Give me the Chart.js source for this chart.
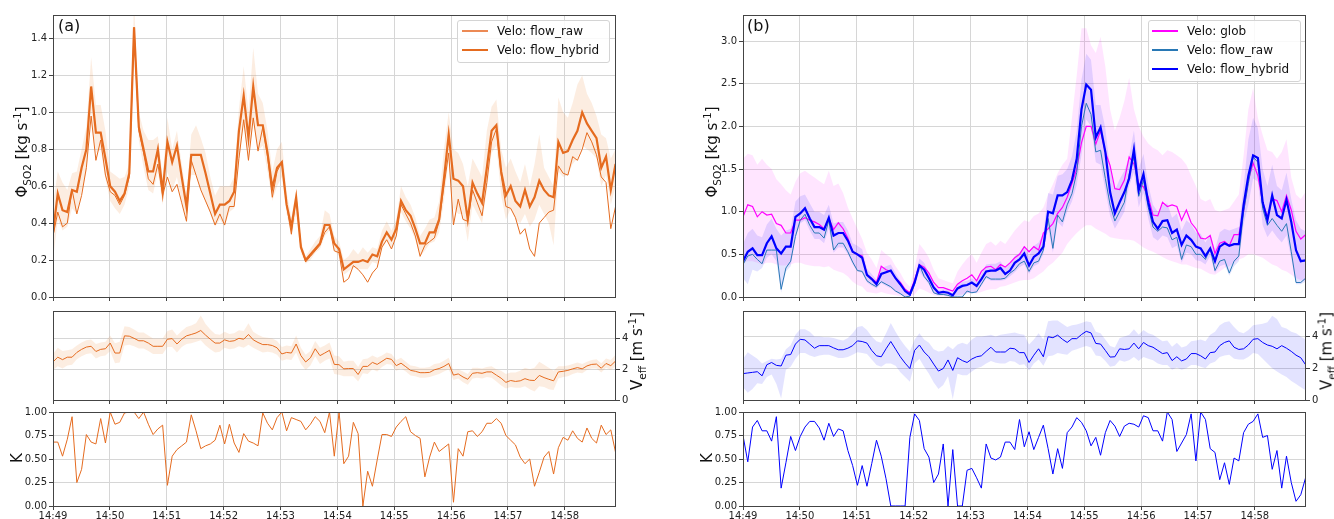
<!DOCTYPE html>
<html>
<head>
<meta charset="utf-8">
<title>SO2 emission rate and plume velocity</title>
<script src="https://cdn.jsdelivr.net/npm/chart.js@4.4.1/dist/chart.umd.min.js"></script>
<style>
  html, body { margin:0; padding:0; background:#fff; }
  body { position:relative; width:1334px; height:519px; overflow:hidden; font-family:"DejaVu Sans", sans-serif; color:#111; }
  canvas { position:absolute; }
  .axis-title { position:absolute; white-space:nowrap; font-size:15px; line-height:1; transform:translate(-50%,-50%) rotate(-90deg); }
  .axis-title sub, .axis-title sup { font-size:10.5px; line-height:0; }
  .panel-tag { position:absolute; font-size:16px; line-height:1; }
  .legend { position:absolute; box-sizing:border-box; border:1px solid #d4d4d4; border-radius:3px; background:rgba(255,255,255,0.85); font-size:12px; }
  .legend .row { position:absolute; height:14px; display:flex; align-items:center; white-space:nowrap; }
  .legend .swatch { display:inline-block; width:26px; margin-right:9px; }
</style>
</head>
<body>
<canvas id="fluxA"  width="690" height="305" style="left:0;top:0"></canvas>
<canvas id="veffA"  width="690" height="105" style="left:0;top:303px"></canvas>
<canvas id="kappaA" width="690" height="122" style="left:0;top:404px"></canvas>
<canvas id="fluxB"  width="690" height="305" style="left:690px;top:0"></canvas>
<canvas id="veffB"  width="690" height="105" style="left:690px;top:303px"></canvas>
<canvas id="kappaB" width="690" height="122" style="left:690px;top:404px"></canvas>

<div class="panel-tag" style="left:58px;top:18px">(a)</div>
<div class="panel-tag" style="left:747px;top:18px">(b)</div>

<div class="axis-title" style="left:22px;top:152px">Φ<sub>SO2</sub> [kg s<sup>-1</sup>]</div>
<div class="axis-title" style="left:712px;top:152px">Φ<sub>SO2</sub> [kg s<sup>-1</sup>]</div>
<div class="axis-title" style="left:637px;top:351px">V<sub>eff</sub> [m s<sup>-1</sup>]</div>
<div class="axis-title" style="left:1327px;top:351px">V<sub>eff</sub> [m s<sup>-1</sup>]</div>
<div class="axis-title" style="left:17px;top:458px">K</div>
<div class="axis-title" style="left:707px;top:458px">K</div>

<div class="legend" style="left:457px;top:20px;width:153px;height:43px">
  <div class="row" style="left:4px;top:3px"><span class="swatch" style="height:1.2px;background:#ec8a55"></span>Velo: flow_raw</div>
  <div class="row" style="left:4px;top:22px"><span class="swatch" style="height:2.2px;background:#e56b1f"></span>Velo: flow_hybrid</div>
</div>
<div class="legend" style="left:1148px;top:20px;width:153px;height:62px">
  <div class="row" style="left:3px;top:3px"><span class="swatch" style="height:1.5px;background:#ff00ff"></span>Velo: glob</div>
  <div class="row" style="left:3px;top:22px"><span class="swatch" style="height:1.2px;background:#2878b5"></span>Velo: flow_raw</div>
  <div class="row" style="left:3px;top:41px"><span class="swatch" style="height:2.2px;background:#0000ff"></span>Velo: flow_hybrid</div>
</div>

<script>
// ---- time axis: samples every ~5 s starting 14:49:00 ----
const SAMPLE_STEP_S = 5.03;
const X_END_S = 594;
const MINUTE_TICKS = [0, 60, 120, 180, 240, 300, 360, 420, 480, 540];
const MINUTE_LABELS = ['14:49','14:50','14:51','14:52','14:53','14:54','14:55','14:56','14:57','14:58'];

// ---- tick values ----
const FLUX_TICKS_A = [0, 0.2, 0.4, 0.6, 0.8, 1.0, 1.2, 1.4];
const FLUX_TICKS_B = [0, 0.5, 1.0, 1.5, 2.0, 2.5, 3.0];
const VEFF_TICKS = [0, 2, 4];
const KAPPA_TICKS = [0, 0.25, 0.5, 0.75, 1.0];

// ---- panel (a): SO2 emission rate [kg/s] ----
const fluxRawA = [
0.33,0.46,0.38,0.40,0.58,0.45,0.55,0.70,0.98,0.74,
0.85,0.66,0.57,0.55,0.50,0.55,0.65,1.46,0.90,0.78,
0.64,0.61,0.72,0.55,0.65,0.57,0.61,0.51,0.41,0.74,
0.66,0.58,0.52,0.46,0.39,0.45,0.39,0.49,0.49,0.75,
0.96,0.74,0.97,0.79,0.92,0.76,0.54,0.68,0.73,0.50,
0.34,0.54,0.27,0.19,0.22,0.25,0.28,0.35,0.38,0.25,
0.24,0.08,0.10,0.17,0.15,0.12,0.08,0.13,0.16,0.27,
0.31,0.26,0.33,0.50,0.45,0.40,0.33,0.22,0.28,0.30,
0.32,0.41,0.60,0.78,0.39,0.53,0.42,0.41,0.58,0.51,
0.44,0.62,0.84,0.91,0.66,0.49,0.48,0.43,0.34,0.37,
0.26,0.22,0.40,0.43,0.46,0.47,0.71,0.67,0.66,0.76,
0.74,0.80,0.89,0.84,0.77,0.65,0.62,0.37,0.49];
const fluxHybA = [
0.35,0.56,0.47,0.46,0.58,0.57,0.70,0.80,1.14,0.89,
0.89,0.75,0.60,0.57,0.52,0.56,0.67,1.46,0.92,0.80,
0.68,0.68,0.80,0.57,0.84,0.73,0.82,0.65,0.49,0.77,
0.77,0.77,0.67,0.56,0.45,0.50,0.50,0.52,0.57,0.90,
1.09,0.86,1.14,0.93,0.93,0.78,0.59,0.70,0.73,0.50,
0.38,0.54,0.27,0.20,0.23,0.26,0.29,0.39,0.39,0.29,
0.26,0.15,0.17,0.19,0.19,0.20,0.19,0.23,0.22,0.30,
0.35,0.31,0.37,0.52,0.47,0.44,0.37,0.29,0.29,0.35,
0.35,0.42,0.64,0.88,0.64,0.63,0.60,0.42,0.62,0.56,
0.51,0.70,0.90,0.93,0.68,0.55,0.60,0.52,0.49,0.58,
0.49,0.54,0.63,0.58,0.55,0.54,0.84,0.78,0.79,0.85,
0.90,1.00,0.94,0.90,0.86,0.70,0.76,0.58,0.72];
const fluxHybLoA = [
0.20,0.42,0.36,0.38,0.48,0.45,0.58,0.68,1.00,0.78,
0.80,0.64,0.52,0.48,0.45,0.50,0.60,1.38,0.85,0.70,
0.58,0.56,0.68,0.50,0.68,0.58,0.65,0.52,0.42,0.66,
0.66,0.58,0.52,0.45,0.38,0.42,0.38,0.46,0.48,0.74,
0.95,0.74,0.96,0.79,0.82,0.68,0.52,0.60,0.65,0.45,
0.33,0.45,0.24,0.18,0.20,0.24,0.26,0.33,0.36,0.25,
0.22,0.12,0.14,0.16,0.15,0.15,0.15,0.19,0.18,0.26,
0.31,0.27,0.33,0.46,0.41,0.37,0.31,0.22,0.25,0.29,
0.30,0.35,0.52,0.75,0.48,0.45,0.45,0.30,0.50,0.45,
0.40,0.58,0.78,0.82,0.55,0.42,0.48,0.42,0.40,0.45,
0.38,0.42,0.50,0.45,0.40,0.28,0.68,0.65,0.66,0.72,
0.75,0.82,0.80,0.78,0.75,0.60,0.66,0.50,0.60];
const fluxHybHiA = [
0.50,0.68,0.62,0.58,0.67,0.68,0.80,0.92,1.30,1.04,
1.04,0.90,0.68,0.66,0.64,0.65,0.72,1.60,1.00,0.90,
0.85,0.85,0.87,0.65,0.97,0.80,0.90,0.72,0.55,0.88,
0.93,0.86,0.78,0.65,0.55,0.60,0.60,0.60,0.65,1.02,
1.25,1.00,1.35,1.10,1.05,0.90,0.68,0.80,0.84,0.57,
0.43,0.58,0.30,0.22,0.26,0.30,0.33,0.47,0.45,0.33,
0.30,0.20,0.22,0.26,0.23,0.27,0.24,0.27,0.26,0.36,
0.41,0.36,0.42,0.60,0.54,0.50,0.43,0.33,0.37,0.42,
0.43,0.52,0.80,1.00,0.80,0.78,0.72,0.60,0.75,0.70,
0.65,0.90,1.03,1.07,0.80,0.70,0.75,0.68,0.62,0.72,
0.60,0.72,0.88,0.70,0.65,0.60,1.08,1.00,0.97,1.05,
1.15,1.20,1.10,1.05,0.98,0.88,0.86,0.75,0.80];

// ---- panel (a): effective plume velocity [m/s] ----
const veffA = [
2.48,2.79,2.63,2.79,2.79,3.10,3.30,3.45,3.50,3.16,
3.30,3.34,3.71,3.06,3.06,4.18,4.16,4.02,3.86,3.86,
3.71,3.50,3.50,3.50,3.96,4.00,3.65,3.96,4.18,4.27,
4.37,4.53,4.23,3.96,3.71,3.71,3.92,3.82,3.86,4.02,
3.96,4.27,3.92,3.75,3.61,3.61,3.55,3.40,3.00,3.10,
3.06,3.65,2.89,2.48,2.75,3.34,2.89,3.06,3.24,2.32,
2.30,2.03,2.05,2.05,1.66,2.19,2.19,2.45,2.32,2.52,
2.72,2.65,2.24,2.40,2.17,1.93,1.87,1.78,1.78,1.80,
1.97,2.05,2.19,2.38,1.62,1.70,1.50,1.35,1.74,1.78,
1.74,1.83,1.83,1.62,1.42,1.15,1.27,1.21,1.25,1.39,
1.29,1.27,1.60,1.46,1.35,1.25,1.83,1.87,1.93,2.03,
2.11,2.03,2.22,2.32,2.34,2.07,2.38,2.24,2.54];
const veffLoA = [
1.95,2.20,2.05,2.25,2.30,2.65,2.85,3.00,3.05,2.70,
2.85,2.90,3.20,2.40,2.45,3.55,3.60,3.50,3.35,3.35,
3.20,3.00,3.00,3.00,3.45,3.45,3.10,3.45,3.65,3.70,
3.80,3.90,3.55,3.30,3.10,3.15,3.40,3.30,3.35,3.50,
3.40,3.60,3.40,3.25,3.10,3.15,3.10,2.95,2.55,2.65,
2.60,3.10,2.35,1.95,2.25,2.85,2.35,2.55,2.70,1.70,
1.65,1.55,1.55,1.55,1.20,1.75,1.70,2.00,1.85,2.15,
2.35,2.30,1.90,2.05,1.85,1.60,1.55,1.45,1.45,1.50,
1.60,1.70,1.85,2.00,1.30,1.40,1.15,1.00,1.40,1.45,
1.40,1.50,1.45,1.20,0.95,0.75,0.85,0.80,0.80,0.90,
0.70,0.55,0.90,0.85,0.70,0.65,1.40,1.50,1.55,1.70,
1.80,1.75,1.95,2.05,2.05,1.80,2.10,1.95,2.20];
const veffHiA = [
3.00,3.40,3.20,3.25,3.30,3.55,3.75,3.90,3.95,3.65,
3.75,3.80,4.20,3.70,3.80,4.80,4.75,4.60,4.40,4.40,
4.20,4.00,4.00,4.00,4.50,4.60,4.20,4.50,4.75,4.85,
5.00,5.50,4.95,4.60,4.30,4.25,4.45,4.30,4.35,4.55,
4.50,5.00,4.45,4.25,4.10,4.05,4.00,3.85,3.45,3.55,
3.50,4.20,3.40,2.95,3.20,3.85,3.40,3.55,3.75,2.90,
2.85,2.50,2.55,2.55,2.15,2.65,2.70,2.90,2.75,2.90,
3.10,3.00,2.60,2.75,2.50,2.25,2.20,2.10,2.10,2.15,
2.35,2.40,2.55,2.75,1.95,2.00,1.85,1.70,2.10,2.10,
2.05,2.15,2.20,2.00,1.90,1.70,1.80,1.80,1.90,2.10,
2.00,2.10,2.50,2.30,2.10,1.90,2.20,2.20,2.25,2.35,
2.45,2.35,2.50,2.60,2.65,2.40,2.70,2.60,2.95];

// ---- panel (a): K ----
const kappaA = [
0.68,0.68,0.53,0.71,0.95,0.25,0.39,0.76,0.68,0.66,
0.93,0.67,1.00,0.87,0.89,0.99,1.00,1.00,0.93,1.00,
0.87,0.76,0.82,0.86,0.22,0.53,0.60,0.64,0.68,0.97,
0.80,0.61,0.64,0.66,0.70,0.86,0.66,0.87,0.67,0.57,
0.77,0.69,0.67,0.64,0.99,0.88,0.81,0.94,1.00,0.80,
0.94,0.92,0.90,0.81,0.87,0.95,0.90,0.78,1.00,0.53,
1.00,0.45,0.53,0.89,0.77,0.00,0.37,0.21,0.49,0.76,
0.76,0.74,0.84,0.90,0.95,0.79,0.75,0.72,0.31,0.52,
0.68,0.58,0.62,0.66,0.04,0.61,0.53,0.79,0.80,0.74,
0.79,0.88,0.88,0.93,0.88,0.75,0.70,0.65,0.52,0.45,
0.50,0.21,0.36,0.52,0.58,0.34,0.62,0.73,0.70,0.80,
0.72,0.68,0.83,0.72,0.67,0.86,0.76,0.81,0.57];

// ---- panel (b): SO2 emission rate [kg/s] ----
const fluxGlobB = [
0.94,1.08,1.06,0.94,1.00,0.96,0.97,0.86,0.84,0.75,
0.75,0.90,0.90,0.93,0.90,0.88,0.85,0.80,0.92,0.79,
0.87,0.80,0.69,0.53,0.50,0.48,0.26,0.22,0.17,0.36,
0.32,0.30,0.22,0.17,0.09,0.05,0.20,0.38,0.35,0.28,
0.17,0.11,0.11,0.09,0.07,0.15,0.19,0.22,0.26,0.19,
0.30,0.35,0.36,0.32,0.38,0.35,0.40,0.46,0.50,0.59,
0.53,0.59,0.55,0.75,0.80,0.86,0.98,1.05,1.17,1.33,
1.50,1.81,2.00,2.00,1.79,1.95,1.70,1.54,1.27,1.26,
1.37,1.64,1.56,1.33,1.29,1.17,0.96,0.95,1.11,1.06,
1.08,1.06,0.90,1.02,0.87,0.80,0.69,0.68,0.72,0.51,
0.63,0.65,0.60,0.73,0.73,1.00,1.37,1.57,1.42,1.11,
0.94,1.15,1.13,1.00,1.19,1.02,0.77,0.68,0.73];
const fluxRawB = [
0.38,0.48,0.50,0.44,0.39,0.55,0.55,0.55,0.09,0.34,
0.42,0.71,0.90,0.97,0.84,0.75,0.75,0.69,0.90,0.55,
0.63,0.63,0.53,0.41,0.31,0.30,0.19,0.15,0.12,0.18,
0.15,0.12,0.07,0.04,0.00,0.01,0.15,0.38,0.24,0.17,
0.05,0.03,0.03,0.02,0.00,0.00,0.00,0.07,0.05,0.06,
0.15,0.24,0.21,0.21,0.21,0.22,0.28,0.32,0.39,0.42,
0.30,0.40,0.42,0.55,0.92,0.57,0.96,0.88,1.08,1.21,
1.46,2.00,2.27,2.14,1.70,1.72,1.39,1.08,0.89,1.00,
1.11,1.44,1.64,1.18,1.37,1.05,0.82,0.77,0.82,0.81,
0.67,0.70,0.44,0.61,0.59,0.50,0.50,0.44,0.57,0.31,
0.42,0.44,0.28,0.42,0.48,1.00,1.33,1.64,1.58,1.04,
0.84,0.92,0.84,0.77,0.86,0.53,0.17,0.17,0.22];
const fluxHybB = [
0.42,0.53,0.57,0.49,0.49,0.63,0.71,0.57,0.51,0.59,
0.59,0.94,0.98,1.04,0.92,0.82,0.82,0.79,0.93,0.72,
0.75,0.75,0.66,0.53,0.50,0.46,0.26,0.21,0.15,0.27,
0.29,0.31,0.22,0.15,0.07,0.03,0.17,0.37,0.32,0.22,
0.11,0.05,0.06,0.05,0.02,0.10,0.13,0.14,0.17,0.13,
0.21,0.30,0.31,0.31,0.34,0.27,0.31,0.40,0.44,0.51,
0.37,0.47,0.51,0.59,1.00,0.98,1.19,1.19,1.23,1.37,
1.62,2.20,2.49,2.43,1.87,1.99,1.70,1.23,0.98,1.11,
1.23,1.39,1.73,1.25,1.44,1.11,0.88,0.80,0.89,0.90,
0.75,0.79,0.61,0.72,0.67,0.59,0.57,0.48,0.57,0.42,
0.59,0.63,0.60,0.62,0.62,1.08,1.42,1.66,1.63,1.11,
0.90,1.19,0.96,0.92,1.14,0.88,0.55,0.42,0.43];
const fluxGlobLoB = [
0.40,0.42,0.42,0.40,0.38,0.40,0.40,0.38,0.37,0.37,
0.38,0.40,0.40,0.38,0.37,0.36,0.36,0.35,0.36,0.32,
0.30,0.28,0.24,0.18,0.14,0.12,0.06,0.05,0.04,0.06,
0.04,0.03,0.02,0.01,0.00,0.00,0.03,0.10,0.08,0.05,
0.02,0.01,0.01,0.00,0.00,0.02,0.03,0.04,0.05,0.04,
0.06,0.08,0.09,0.09,0.12,0.13,0.15,0.17,0.19,0.20,
0.20,0.22,0.26,0.30,0.36,0.40,0.46,0.52,0.62,0.69,
0.75,0.80,0.84,0.84,0.80,0.77,0.74,0.70,0.69,0.68,
0.67,0.67,0.66,0.62,0.58,0.55,0.53,0.50,0.47,0.44,
0.42,0.40,0.38,0.38,0.36,0.34,0.33,0.30,0.27,0.26,
0.30,0.34,0.36,0.40,0.44,0.46,0.50,0.50,0.48,0.46,
0.42,0.38,0.36,0.32,0.30,0.26,0.22,0.20,0.19];
const fluxGlobHiB = [
1.62,1.68,1.66,1.55,1.62,1.55,1.50,1.38,1.32,1.25,
1.20,1.35,1.45,1.48,1.44,1.40,1.36,1.32,1.48,1.30,
1.33,1.22,1.05,0.92,0.80,0.68,0.52,0.44,0.34,0.55,
0.50,0.46,0.36,0.28,0.18,0.12,0.35,0.62,0.55,0.46,
0.32,0.22,0.20,0.18,0.16,0.30,0.38,0.45,0.50,0.40,
0.52,0.62,0.65,0.60,0.66,0.62,0.70,0.78,0.84,0.90,
0.88,0.95,0.98,1.05,1.20,1.32,1.45,1.55,1.62,2.10,
2.60,3.15,3.15,2.95,2.86,3.05,2.70,2.20,1.95,2.10,
2.30,2.57,2.20,2.00,1.88,1.80,1.75,1.72,1.66,1.72,
1.70,1.66,1.62,1.55,1.42,1.30,1.15,1.12,1.15,1.02,
1.00,1.02,1.04,1.12,1.20,1.66,2.20,2.45,2.10,1.90,
1.72,1.70,1.62,1.70,1.85,1.40,1.20,1.15,1.23];
const fluxHybLoB = [
0.22,0.15,0.32,0.30,0.34,0.46,0.50,0.42,0.05,0.30,
0.36,0.70,0.86,0.90,0.78,0.68,0.68,0.63,0.80,0.52,
0.58,0.58,0.50,0.38,0.30,0.28,0.17,0.13,0.10,0.16,
0.13,0.10,0.06,0.03,0.00,0.00,0.12,0.30,0.22,0.15,
0.04,0.02,0.02,0.01,0.00,0.00,0.00,0.05,0.04,0.05,
0.13,0.22,0.19,0.19,0.19,0.20,0.24,0.29,0.35,0.38,
0.27,0.36,0.39,0.50,0.80,0.52,0.88,0.82,1.00,1.12,
1.31,1.66,2.08,2.00,1.58,1.55,1.25,0.95,0.80,0.90,
1.00,1.30,1.46,1.05,1.22,0.92,0.70,0.66,0.72,0.70,
0.57,0.60,0.40,0.52,0.50,0.43,0.42,0.38,0.48,0.28,
0.36,0.38,0.25,0.36,0.42,0.85,1.08,1.39,1.35,0.84,
0.70,0.78,0.70,0.64,0.72,0.45,0.15,0.15,0.18];
const fluxHybHiB = [
0.62,0.75,0.80,0.72,0.70,0.85,0.92,0.80,0.72,0.78,
0.80,1.12,1.18,1.20,1.10,1.00,1.00,0.96,1.08,0.86,
0.88,0.88,0.78,0.63,0.60,0.56,0.33,0.27,0.20,0.34,
0.36,0.38,0.28,0.19,0.10,0.05,0.22,0.45,0.40,0.28,
0.15,0.08,0.09,0.08,0.04,0.14,0.18,0.19,0.22,0.18,
0.27,0.38,0.39,0.39,0.42,0.34,0.39,0.48,0.52,0.60,
0.48,0.60,0.64,0.74,1.22,1.20,1.42,1.44,1.50,1.65,
1.95,2.55,2.85,2.78,2.25,2.25,1.98,1.50,1.25,1.38,
1.48,1.65,1.95,1.50,1.68,1.32,1.08,1.00,1.08,1.10,
0.93,0.98,0.78,0.90,0.85,0.76,0.74,0.64,0.74,0.56,
0.76,0.80,0.78,0.80,0.82,1.30,1.85,2.10,1.98,1.50,
1.30,1.55,1.30,1.25,1.46,1.15,0.90,0.80,0.77];

// ---- panel (b): effective plume velocity [m/s] ----
const veffB = [
1.66,1.70,1.74,1.78,1.52,2.22,2.36,2.18,2.14,2.82,
2.86,3.52,3.82,3.78,3.52,3.26,3.42,3.42,3.42,3.28,
3.16,3.16,3.26,3.42,3.72,3.68,3.58,3.12,2.78,2.72,
3.22,3.68,3.20,2.72,2.32,1.98,3.12,3.46,3.02,2.72,
2.26,1.82,1.98,2.52,1.86,2.66,2.48,2.36,2.58,2.72,
2.78,3.06,3.32,3.02,3.02,3.02,3.26,3.22,2.98,2.98,
2.36,2.82,3.22,2.72,3.98,3.92,4.08,3.82,3.62,3.86,
3.86,4.12,4.32,4.22,3.56,3.52,3.12,2.70,2.72,3.22,
3.18,3.22,3.58,3.22,3.62,3.42,3.32,3.12,2.92,2.98,
2.48,2.72,2.46,2.58,2.92,2.92,2.78,2.58,2.98,3.02,
3.42,3.62,3.72,3.32,3.18,3.22,3.46,3.82,3.86,3.62,
3.46,3.38,3.22,3.42,3.26,3.06,2.82,2.66,2.22];
const veffLoB = [
0.80,0.45,0.70,1.05,1.00,1.45,1.60,1.00,0.10,1.90,
2.10,2.60,2.95,2.95,2.80,2.70,2.80,2.85,2.85,2.75,
2.65,2.65,2.70,2.85,3.00,2.95,2.90,2.55,2.20,2.10,
2.30,2.30,2.15,1.75,1.45,1.15,2.30,2.60,2.10,1.65,
1.10,0.70,0.95,1.50,0.05,1.65,1.55,1.55,1.80,2.00,
2.10,2.30,2.45,2.35,2.30,2.30,2.45,2.40,2.20,2.25,
1.85,2.30,2.55,2.15,2.75,2.80,2.95,2.90,2.85,3.10,
3.20,3.30,3.40,3.30,2.80,2.75,2.45,2.10,2.15,2.50,
2.40,2.50,2.70,2.45,2.70,2.60,2.50,2.30,2.20,2.20,
1.90,2.05,1.90,2.00,2.20,2.20,2.10,2.00,2.30,2.40,
2.70,2.80,2.85,2.60,2.55,2.55,2.70,2.95,2.90,2.60,
2.30,2.00,1.80,1.60,1.45,1.20,1.00,0.80,0.62];
const veffHiB = [
2.60,3.00,2.80,2.60,2.30,2.45,2.60,2.55,2.60,3.20,
3.45,4.10,4.45,4.45,4.30,4.00,4.00,3.95,3.95,3.90,
3.80,3.75,3.90,4.20,4.60,4.65,4.40,4.00,3.70,3.60,
4.20,4.85,4.30,3.80,3.40,3.05,3.80,4.20,3.80,3.60,
3.20,3.05,3.10,3.40,3.20,3.50,3.60,3.50,3.80,4.00,
4.00,4.05,4.10,4.00,4.10,4.15,4.20,4.25,4.15,4.10,
3.50,3.80,4.20,3.80,4.95,5.00,5.00,4.80,4.60,4.70,
4.75,4.85,4.95,4.90,4.30,4.20,3.80,3.40,3.30,3.90,
4.00,4.10,4.45,4.10,4.40,4.20,4.10,3.90,3.70,3.75,
3.35,3.60,3.30,3.40,3.70,3.75,3.80,3.70,4.10,4.30,
4.70,4.90,4.95,4.60,4.30,4.20,4.40,4.70,4.75,4.80,
4.90,5.30,5.10,4.60,4.50,4.30,4.20,4.00,3.80];

// ---- panel (b): K ----
const kappaB = [
0.75,0.47,0.84,0.91,0.80,0.80,0.69,0.95,0.19,0.46,
0.74,0.59,0.74,0.84,0.90,0.90,0.83,0.70,0.88,0.74,
0.82,0.80,0.59,0.43,0.22,0.43,0.21,0.45,0.70,0.53,
0.29,0.00,0.00,0.00,0.00,0.73,0.98,0.91,0.61,0.52,
0.25,0.34,0.66,0.00,0.60,0.00,0.00,0.38,0.40,0.30,
0.19,0.66,0.51,0.49,0.52,0.68,0.68,0.60,0.92,0.63,
0.79,0.60,0.73,0.86,0.61,0.34,0.61,0.40,0.78,0.84,
0.94,0.89,0.80,0.64,0.73,0.54,0.78,0.91,0.85,0.74,
0.85,0.88,0.87,0.84,0.96,0.94,0.80,0.80,0.69,1.00,
0.92,0.58,0.67,0.76,0.98,0.48,1.00,0.92,0.61,0.57,
0.28,0.46,0.23,0.51,0.48,0.78,0.87,0.90,0.98,0.73,
0.75,0.39,0.59,0.19,0.53,0.25,0.05,0.12,0.30];

// ---- styling ----
const ORANGE = '#e56b1f';
const ORANGE_BAND = 'rgba(240,150,80,0.17)';
const MAGENTA = '#ff00ff';
const STEEL = '#2878b5';
const BLUE = '#0000ff';
const GLOB_BAND = 'rgba(255,0,255,0.10)';
const BLUE_BAND = 'rgba(0,0,255,0.11)';
const GRID = '#d6d6d6';
const SPINE = '#444';
const TICK_FONT = { family: 'DejaVu Sans', size: 10 };

const toPoints = values => values.map((v, i) => ({ x: i * SAMPLE_STEP_S, y: v }));

function line(values, color, width, order) {
  return { data: toPoints(values), borderColor: color, borderWidth: width, fill: false, order };
}
function bandPair(lo, hi, color, order) {
  return [
    { data: toPoints(lo), borderColor: 'rgba(0,0,0,0)', borderWidth: 0, fill: false, order: order + 1 },
    { data: toPoints(hi), borderColor: 'rgba(0,0,0,0)', borderWidth: 0, fill: '-1', backgroundColor: color, order }
  ];
}

function xScale(withLabels) {
  return {
    type: 'linear', position: 'bottom', min: 0, max: X_END_S,
    afterBuildTicks: s => { s.ticks = MINUTE_TICKS.map(v => ({ value: v })); },
    afterFit: s => { s.height = withLabels ? 20 : 6; },
    grid: { color: GRID, lineWidth: 1, drawTicks: true, tickLength: 4, tickColor: SPINE },
    border: { display: false },
    ticks: {
      display: withLabels, font: TICK_FONT, color: '#222', padding: 0,
      maxRotation: 0, autoSkip: false,
      callback: (v) => MINUTE_LABELS[MINUTE_TICKS.indexOf(v)]
    }
  };
}
function yScale(min, max, tickValues, digits, position, width) {
  return {
    type: 'linear', position, min, max,
    afterBuildTicks: s => { s.ticks = tickValues.map(v => ({ value: v })); },
    afterFit: s => { s.width = width; },
    grid: { color: GRID, lineWidth: 1, drawTicks: true, tickLength: 4, tickColor: SPINE },
    border: { display: false },
    ticks: { font: TICK_FONT, color: '#222', padding: 2, callback: v => Number(v).toFixed(digits) }
  };
}

const framePlugin = {
  id: 'frame',
  afterDraw(chart) {
    const { ctx, chartArea: a } = chart;
    const l = Math.round(a.left), t = Math.round(a.top), r = Math.round(a.right), b = Math.round(a.bottom);
    ctx.save();
    ctx.strokeStyle = SPINE;
    ctx.lineWidth = 1;
    ctx.strokeRect(l + 0.5, t + 0.5, r - l - 1, b - t);
    ctx.restore();
  }
};

function panel(id, datasets, y, xLabels, padding) {
  return new Chart(document.getElementById(id), {
    type: 'line',
    data: { datasets },
    options: {
      responsive: false, animation: false, devicePixelRatio: 1,
      layout: { padding },
      plugins: { legend: { display: false }, tooltip: { enabled: false }, title: { display: false } },
      elements: { point: { radius: 0, hoverRadius: 0 }, line: { tension: 0, borderCapStyle: 'butt', borderJoinStyle: 'miter' } },
      scales: { x: xScale(xLabels), y }
    },
    plugins: [framePlugin]
  });
}

// (a) column
panel('fluxA', [
  line(fluxHybA, ORANGE, 2.2, 0),
  line(fluxRawA, ORANGE, 1, 1),
  ...bandPair(fluxHybLoA, fluxHybHiA, ORANGE_BAND, 5)
], yScale(0, 1.527, FLUX_TICKS_A, 1, 'left', 53), false, { left: 0, right: 74, top: 15, bottom: 0 });

panel('veffA', [
  line(veffA, ORANGE, 1, 0),
  ...bandPair(veffLoA, veffHiA, ORANGE_BAND, 5)
], yScale(0, 5.8, VEFF_TICKS, 0, 'right', 74), false, { left: 53, right: 0, top: 4, bottom: 0 });

panel('kappaA', [
  line(kappaA, ORANGE, 1, 0)
], yScale(0, 1, KAPPA_TICKS, 2, 'left', 53), true, { left: 0, right: 74, top: 7, bottom: 0 });

// (b) column
panel('fluxB', [
  line(fluxHybB, BLUE, 2.2, 0),
  line(fluxRawB, STEEL, 1, 1),
  line(fluxGlobB, MAGENTA, 1.2, 2),
  ...bandPair(fluxHybLoB, fluxHybHiB, BLUE_BAND, 5),
  ...bandPair(fluxGlobLoB, fluxGlobHiB, GLOB_BAND, 8)
], yScale(0, 3.305, FLUX_TICKS_B, 1, 'left', 53), false, { left: 0, right: 74, top: 15, bottom: 0 });

panel('veffB', [
  line(veffB, BLUE, 1, 0),
  ...bandPair(veffLoB, veffHiB, BLUE_BAND, 5)
], yScale(0, 5.6, VEFF_TICKS, 0, 'right', 74), false, { left: 53, right: 0, top: 4, bottom: 0 });

panel('kappaB', [
  line(kappaB, BLUE, 1, 0)
], yScale(0, 1, KAPPA_TICKS, 2, 'left', 53), true, { left: 0, right: 74, top: 7, bottom: 0 });
</script>
</body>
</html>
